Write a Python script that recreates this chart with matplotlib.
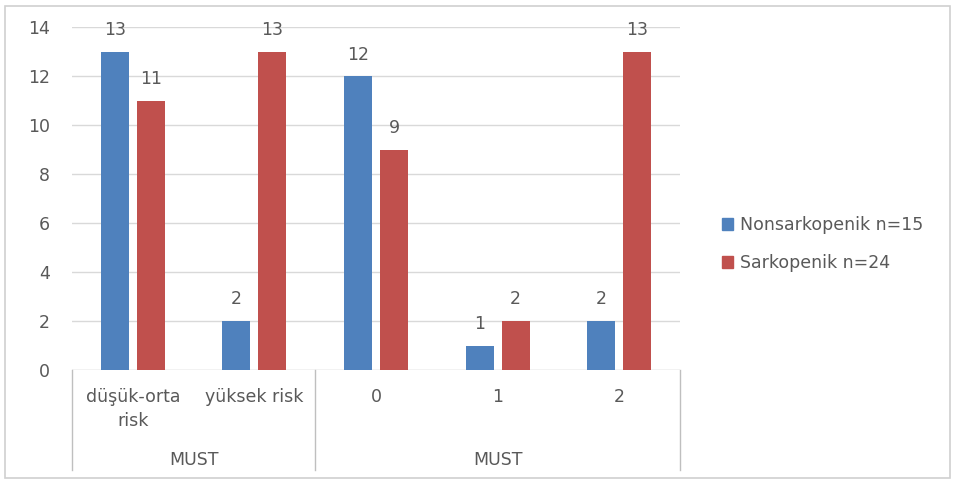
import matplotlib
matplotlib.use("Agg")
import matplotlib.pyplot as plt
from matplotlib.patches import Rectangle
from matplotlib.lines import Line2D
import matplotlib.transforms as mtransforms
import numpy as np

categories = ["düşük-orta\nrisk", "yüksek risk", "0", "1", "2"]
groups = ["MUST", "MUST"]
group_sizes = [2, 3]
series_names = ["Nonsarkopenik n=15", "Sarkopenik n=24"]
nonsarkopenik = [13, 2, 12, 1, 2]
sarkopenik = [11, 13, 9, 2, 13]
yticks = [0, 2, 4, 6, 8, 10, 12, 14]

blue = "#4F81BD"
red = "#C0504D"
txt = "#595959"
grid = "#D9D9D9"
plt.rcParams['font.family'] = ['DejaVu Sans']
fs = 12.5

W, H = 957, 484
fig = plt.figure(figsize=(W/100, H/100), dpi=100)
fig.patches.append(Rectangle((5/W, 6/H), 945/W, 472/H, transform=fig.transFigure,
                             fill=False, edgecolor="#D0D0D0", lw=1.2))

x0, x1, ytop, ybot = 72, 680, 27, 370
ax = fig.add_axes([x0/W, (H-ybot)/H, (x1-x0)/W, (ybot-ytop)/H])
ax.set_xlim(0, len(categories))
ax.set_ylim(0, 14)
for s in ax.spines.values():
    s.set_visible(False)
ax.set_yticks(yticks)
ax.set_yticklabels([str(t) for t in yticks], color=txt, fontsize=fs)
ax.tick_params(axis='y', length=0, pad=16)
ax.set_xticks([])
for t in yticks:
    ax.axhline(t, color=grid if t else "#BFBFBF", lw=1, zorder=0)

xc = np.arange(len(categories)) + 0.5
bw = 0.23
gap = 0.033
b1 = ax.bar(xc - gap - bw/2, nonsarkopenik, bw, color=blue, zorder=2)
b2 = ax.bar(xc + gap + bw/2, sarkopenik, bw, color=red, zorder=2)
for bars, vals in ((b1, nonsarkopenik), (b2, sarkopenik)):
    for b, v in zip(bars, vals):
        ax.annotate(str(v), (b.get_x() + b.get_width()/2, v), xytext=(0, 9),
                    textcoords="offset points", ha="center", va="bottom",
                    color=txt, fontsize=fs)

trans = mtransforms.blended_transform_factory(ax.transData, fig.transFigure)
def fy(py):
    return (H - py)/H
for i, c in enumerate(categories):
    ax.text(xc[i], fy(388), c, transform=trans, ha="center", va="top",
            color=txt, fontsize=fs, linespacing=1.4)
# separators
bounds = [0]
for g in group_sizes:
    bounds.append(bounds[-1] + g)
for b in bounds:
    ax.add_line(Line2D([b, b], [fy(370), fy(470)], transform=trans, color="#BFBFBF",
                       lw=1, clip_on=False))
for gi, g in enumerate(groups):
    mid = (bounds[gi] + bounds[gi+1]) / 2
    ax.text(mid, fy(460), g, transform=trans, ha="center", va="center",
            color=txt, fontsize=fs)

handles = [Rectangle((0, 0), 1, 1, color=blue), Rectangle((0, 0), 1, 1, color=red)]
fig.legend(handles, series_names, loc="center left", bbox_to_anchor=(706/W, fy(244)),
           frameon=False, fontsize=fs, labelcolor=txt, handlelength=0.65,
           handleheight=0.65, handletextpad=0.4, labelspacing=1.15)

fig.savefig("out.png", dpi=100)
